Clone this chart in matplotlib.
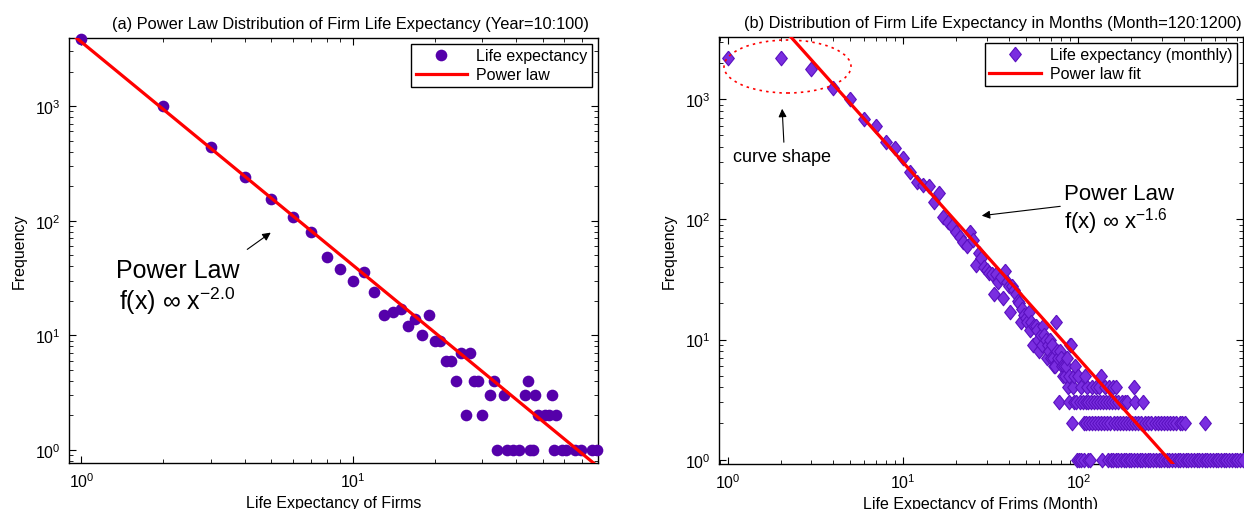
import matplotlib
matplotlib.use('Agg')
import matplotlib.pyplot as plt
from matplotlib.patches import Ellipse
from matplotlib.ticker import LogLocator, NullFormatter

plt.rcParams['font.family'] = ['Liberation Sans', 'DejaVu Sans']
plt.rcParams['mathtext.fontset'] = 'custom'
plt.rcParams['mathtext.rm'] = 'Liberation Sans'
plt.rcParams['mathtext.it'] = 'Liberation Sans:italic'
plt.rcParams['font.size'] = 11.5

# (a) yearly life expectancy histogram
years_a = [1, 2, 3, 4, 5, 6, 7, 8, 9, 10, 11, 12, 13, 14, 15, 16, 17, 18, 19, 20,
           21, 22, 23, 24, 25, 26, 27, 28, 29, 30, 32, 33, 34, 36, 37, 39, 41, 43,
           44, 45, 46, 47, 48, 51, 53, 54, 55, 56, 59, 61, 66, 69, 76, 79]
freq_a = [3850, 1000, 440, 240, 155, 108, 80, 48, 38, 30, 36, 24, 15, 16, 17, 12, 14, 10, 15, 9,
          9, 6, 6, 4, 7, 2, 7, 4, 4, 2, 3, 4, 1, 3, 1, 1, 1, 3,
          4, 1, 1, 3, 2, 2, 2, 3, 1, 2, 1, 1, 1, 1, 1, 1]
fit_a_x = [0.8, 80]
fit_a_y = [5580, 0.715]

# (b) monthly life expectancy histogram
months_head = list(range(1, 98))
freq_head = [2200, 2200, 1800, 1250, 1000, 690, 600, 445, 390, 325,
             250, 205, 195, 190, 140, 165, 105, 95, 88, 78,
             72, 65, 60, 78, 67, 42, 53, 48, 40, 38,
             36, 35, 24, 35, 30, 33, 22, 37, 30, 28,
             17, 28, 26, 24, 21, 20, 14, 18, 16, 15,
             14, 17, 12, 14, 9, 13, 13, 12, 10, 8,
             11, 9, 13, 11, 10, 7, 9, 8, 10, 7,
             9, 7, 6, 6, 14, 8, 7, 3, 8, 7,
             6, 5, 6, 5, 6, 7, 4, 3, 5, 9,
             9, 2, 4, 3, 5, 6, 3]
tail_1 = [98, 101, 104, 108, 113, 117, 136, 148, 153, 158, 163, 169, 175, 181, 188, 194,
          201, 208, 216, 224, 232, 240, 249, 258, 267, 277, 287, 297, 308, 319, 331, 343,
          355, 368, 381, 395, 410, 425, 440, 456, 473, 490, 508, 526, 545, 565, 586, 607,
          629, 652, 676, 700, 726, 752, 780, 808, 837, 866]
tail_2 = [107, 111, 115, 120, 125, 130, 135, 140, 146, 152, 159, 166, 173, 180, 187, 195,
          203, 211, 220, 229, 239, 250, 261, 272, 283, 295, 307, 320, 334, 348, 363, 378,
          392, 405, 530]
tail_3 = [102, 106, 110, 114, 118, 123, 128, 133, 139, 144, 150, 156, 162, 168, 177, 185,
          190, 211, 234]
tail_4 = [103, 112, 119, 126, 132, 141, 149, 157, 165, 207]
tail_5 = [100, 109, 134]

months_b = months_head + tail_1 + tail_2 + tail_3 + tail_4 + tail_5
freq_b = (freq_head + [1] * len(tail_1) + [2] * len(tail_2) + [3] * len(tail_3)
          + [4] * len(tail_4) + [5] * len(tail_5))
fit_b_x = [0.89, 870]
fit_b_y = [15400, 0.205]

W, H = 1244, 510
fig = plt.figure(figsize=(W / 100, H / 100), dpi=100)


def fx(px):
    return px / W


def fy(py):
    return 1 - py / H


def style_axes(ax):
    ax.set_xscale('log')
    ax.set_yscale('log')
    ax.tick_params(which='both', direction='in', top=True, right=True, labelsize=11.5)
    ax.tick_params(which='major', length=5, width=0.8, pad=6)
    ax.tick_params(which='minor', length=3, width=0.6)
    ax.xaxis.set_major_locator(LogLocator(base=10, numticks=10))
    ax.yaxis.set_major_locator(LogLocator(base=10, numticks=10))
    ax.xaxis.set_minor_formatter(NullFormatter())
    ax.yaxis.set_minor_formatter(NullFormatter())
    for s in ax.spines.values():
        s.set_linewidth(1.0)
        s.set_color('black')


red = '#ff0000'
diamond = [(0, 1), (0.8, 0), (0, -1), (-0.8, 0), (0, 1)]

# ---- panel (a)
ax1 = fig.add_axes([fx(69), fy(464), fx(598) - fx(69), fy(39) - fy(464)])
style_axes(ax1)
ax1.plot(years_a, freq_a, 'o', color='#5500aa', markersize=8.4, markeredgewidth=0,
         label='Life expectancy', clip_on=False, zorder=3)
ax1.plot(fit_a_x, fit_a_y, '-', color=red, lw=2.3, label='Power law', zorder=4)
ax1.set_xlim(0.9, 80)
ax1.set_ylim(0.77, 3920)
ax1.set_title('(a) Power Law Distribution of Firm Life Expectancy (Year=10:100)',
              fontsize=11.8, x=0.532, pad=7)
ax1.set_xlabel('Life Expectancy of Firms', fontsize=11.5)
ax1.xaxis.set_label_coords(0.5, -0.075)
ax1.set_ylabel('Frequency', fontsize=11.5)
ax1.yaxis.set_label_coords(-0.08, 0.5)
leg1 = ax1.legend(loc='upper right', fontsize=11.5, frameon=True, fancybox=False,
                  edgecolor='black', framealpha=1, borderaxespad=0.35,
                  handlelength=3.2, handletextpad=0.6, borderpad=0.3, labelspacing=0.25)
leg1.get_frame().set_linewidth(1.0)

fig.text(fx(116), fy(278), 'Power Law', fontsize=18, va='baseline')
fig.text(fx(119), fy(310), 'f(x) \u221e x$^{-2.0}$', fontsize=18, va='baseline')
ax1.annotate('', xy=(fx(273), fy(232)), xytext=(fx(245), fy(252)),
             xycoords='figure fraction', textcoords='figure fraction',
             arrowprops=dict(arrowstyle='-|>', color='black', lw=0.8, mutation_scale=12))

# ---- panel (b)
ax2 = fig.add_axes([fx(719), fy(465), fx(1243) - fx(719), fy(38) - fy(465)])
style_axes(ax2)
ax2.plot(months_b, freq_b, linestyle='none', marker=diamond, color='#7a2ee0',
         markeredgecolor='#5a10c0', markeredgewidth=0.8, markersize=10.5,
         label='Life expectancy (monthly)', clip_on=False, zorder=3)
ax2.plot(fit_b_x, fit_b_y, '-', color=red, lw=2.3, label='Power law fit', zorder=4)
ax2.set_xlim(0.89, 870)
ax2.set_ylim(0.92, 3300)
ax2.set_title('(b) Distribution of Firm Life Expectancy in Months (Month=120:1200)',
              fontsize=11.8, x=0.522, pad=7)
ax2.set_xlabel('Life Expectancy of Frims (Month)', fontsize=11.5)
ax2.xaxis.set_label_coords(0.5, -0.075)
ax2.set_ylabel('Frequency', fontsize=11.5)
ax2.yaxis.set_label_coords(-0.08, 0.5)
leg2 = ax2.legend(loc='upper right', fontsize=11.5, frameon=True, fancybox=False,
                  edgecolor='black', framealpha=1, borderaxespad=0.35,
                  handlelength=3.2, handletextpad=0.6, borderpad=0.3, labelspacing=0.25)
leg2.get_frame().set_linewidth(1.0)

fig.text(fx(1064), fy(200), 'Power Law', fontsize=16, va='baseline')
fig.text(fx(1064), fy(229), 'f(x) \u221e x$^{-1.6}$', fontsize=16, va='baseline')
ax2.annotate('', xy=(fx(979), fy(217)), xytext=(fx(1063), fy(207)),
             xycoords='figure fraction', textcoords='figure fraction',
             arrowprops=dict(arrowstyle='-|>', color='black', lw=0.8, mutation_scale=12))
fig.text(fx(733), fy(162), 'curve shape', fontsize=13, va='baseline')
ax2.annotate('', xy=(fx(782), fy(107)), xytext=(fx(784), fy(146)),
             xycoords='figure fraction', textcoords='figure fraction',
             arrowprops=dict(arrowstyle='-|>', color='black', lw=0.8, mutation_scale=12))
fig.patches.append(Ellipse((fx(787.5), fy(67.5)), fx(127), 53 / H, transform=fig.transFigure,
                           fill=False, edgecolor=red, lw=1.2, linestyle=(0, (1.5, 2.5))))

fig.savefig('out.png', dpi=100)
